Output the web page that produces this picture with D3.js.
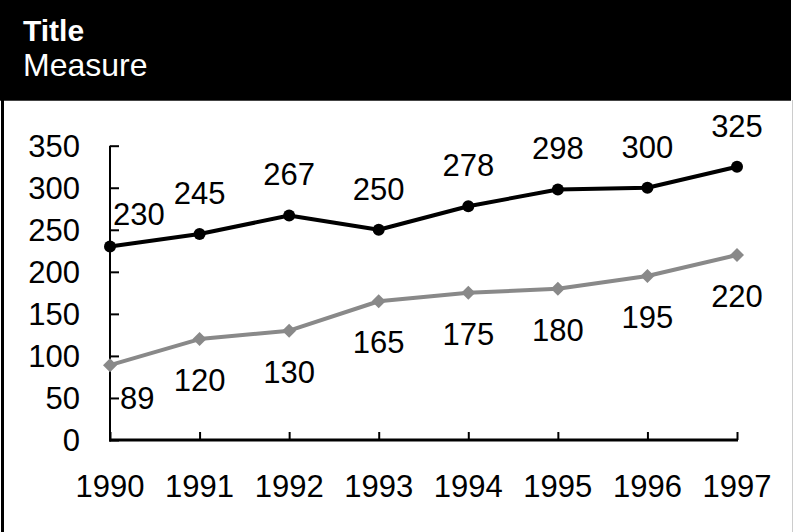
<!DOCTYPE html>
<html>
<head>
<meta charset="utf-8">
<script src="https://cdn.jsdelivr.net/npm/d3@7"></script>
<style>
  html, body { margin: 0; padding: 0; background: #fff; }
  svg { display: block; }
  text { font-family: "Liberation Sans", Arial, sans-serif; }
</style>
</head>
<body>
<svg id="chart" width="793" height="532"></svg>
<script>
const title = "Title";
const subtitle = "Measure";
const years = ["1990", "1991", "1992", "1993", "1994", "1995", "1996", "1997"];
const seriesA = [230, 245, 267, 250, 278, 298, 300, 325];
const seriesB = [89, 120, 130, 165, 175, 180, 195, 220];
const yTicks = [0, 50, 100, 150, 200, 250, 300, 350];

const W = 793, H = 532;
const svg = d3.select("#chart");

// frame
svg.append("rect").attr("x", 0).attr("y", 0).attr("width", 791).attr("height", 100).attr("fill", "#000");
svg.append("line").attr("x1", 0).attr("x2", 791).attr("y1", 100.5).attr("y2", 100.5).attr("stroke", "#444").attr("stroke-width", 1);
svg.append("line").attr("x1", 2.5).attr("x2", 2.5).attr("y1", 0).attr("y2", H).attr("stroke", "#000").attr("stroke-width", 3);
svg.append("line").attr("x1", 792.5).attr("x2", 792.5).attr("y1", 100).attr("y2", H).attr("stroke", "#ccc").attr("stroke-width", 1);

svg.append("text").attr("x", 23).attr("y", 41).attr("fill", "#fff")
  .attr("font-size", 30).attr("font-weight", "bold").text(title);
svg.append("text").attr("x", 23).attr("y", 76).attr("fill", "#fff")
  .attr("font-size", 32).text(subtitle);

const x = d3.scalePoint().domain(years).range([110, 737]).padding(0);
const y = d3.scaleLinear().domain([0, 350]).range([440, 145.7]);

const fs = 31;

// y axis
const yAxis = svg.append("g").attr("transform", "translate(110,0)")
  .call(d3.axisRight(y).tickValues(yTicks).tickSize(9).tickFormat(""));
yAxis.select(".domain").remove();
yAxis.selectAll(".tick line").attr("stroke", "#000").attr("stroke-width", 2);
svg.append("line").attr("x1", 110).attr("x2", 110).attr("y1", y(350)).attr("y2", 441.5)
  .attr("stroke", "#000").attr("stroke-width", 2);
svg.append("g").selectAll("text").data(yTicks).join("text")
  .attr("x", 80).attr("y", d => y(d) + 11).attr("text-anchor", "end")
  .attr("font-size", fs).attr("fill", "#000").text(d => d);

// x axis
const xAxis = svg.append("g").attr("transform", "translate(0,440)")
  .call(d3.axisTop(x).tickSize(8).tickFormat(""));
xAxis.select(".domain").remove();
xAxis.selectAll(".tick line").attr("stroke", "#000").attr("stroke-width", 2);
svg.append("line").attr("x1", 109).attr("x2", 738).attr("y1", 440).attr("y2", 440)
  .attr("stroke", "#000").attr("stroke-width", 3);
svg.append("g").selectAll("text").data(years).join("text")
  .attr("x", d => x(d)).attr("y", 497).attr("text-anchor", "middle")
  .attr("font-size", fs).attr("fill", "#000").text(d => d);

const line = d3.line().x((d, i) => x(years[i])).y(d => y(d));

// series B (gray diamonds)
const gray = "#898989";
svg.append("path").datum(seriesB).attr("d", line).attr("fill", "none")
  .attr("stroke", gray).attr("stroke-width", 4).attr("stroke-linejoin", "round");
svg.append("g").selectAll("path").data(seriesB).join("path")
  .attr("transform", (d, i) => `translate(${x(years[i])},${y(d)})`)
  .attr("d", "M0,-7L7,0L0,7L-7,0Z").attr("fill", gray);

// series A (black circles)
svg.append("path").datum(seriesA).attr("d", line).attr("fill", "none")
  .attr("stroke", "#000").attr("stroke-width", 4).attr("stroke-linejoin", "round");
svg.append("g").selectAll("circle").data(seriesA).join("circle")
  .attr("cx", (d, i) => x(years[i])).attr("cy", d => y(d)).attr("r", 6).attr("fill", "#000");

// data labels
function addLabels(data, above) {
  const g = svg.append("g");
  data.forEach((d, i) => {
    const t = g.append("text").attr("font-size", fs).attr("fill", "#000").text(d);
    const w = t.node().getComputedTextLength();
    let cx = x(years[i]);
    let left = cx - w / 2;
    let shifted = false;
    const minLeft = 113;
    if (left < minLeft) { left = minLeft + (above ? 0 : 7); shifted = true; }
    const off = shifted ? 33 : 41;
    const centerY = above ? y(d) - off : y(d) + off;
    t.attr("x", left).attr("y", centerY + 11);
  });
}
addLabels(seriesA, true);
addLabels(seriesB, false);
</script>
</body>
</html>
